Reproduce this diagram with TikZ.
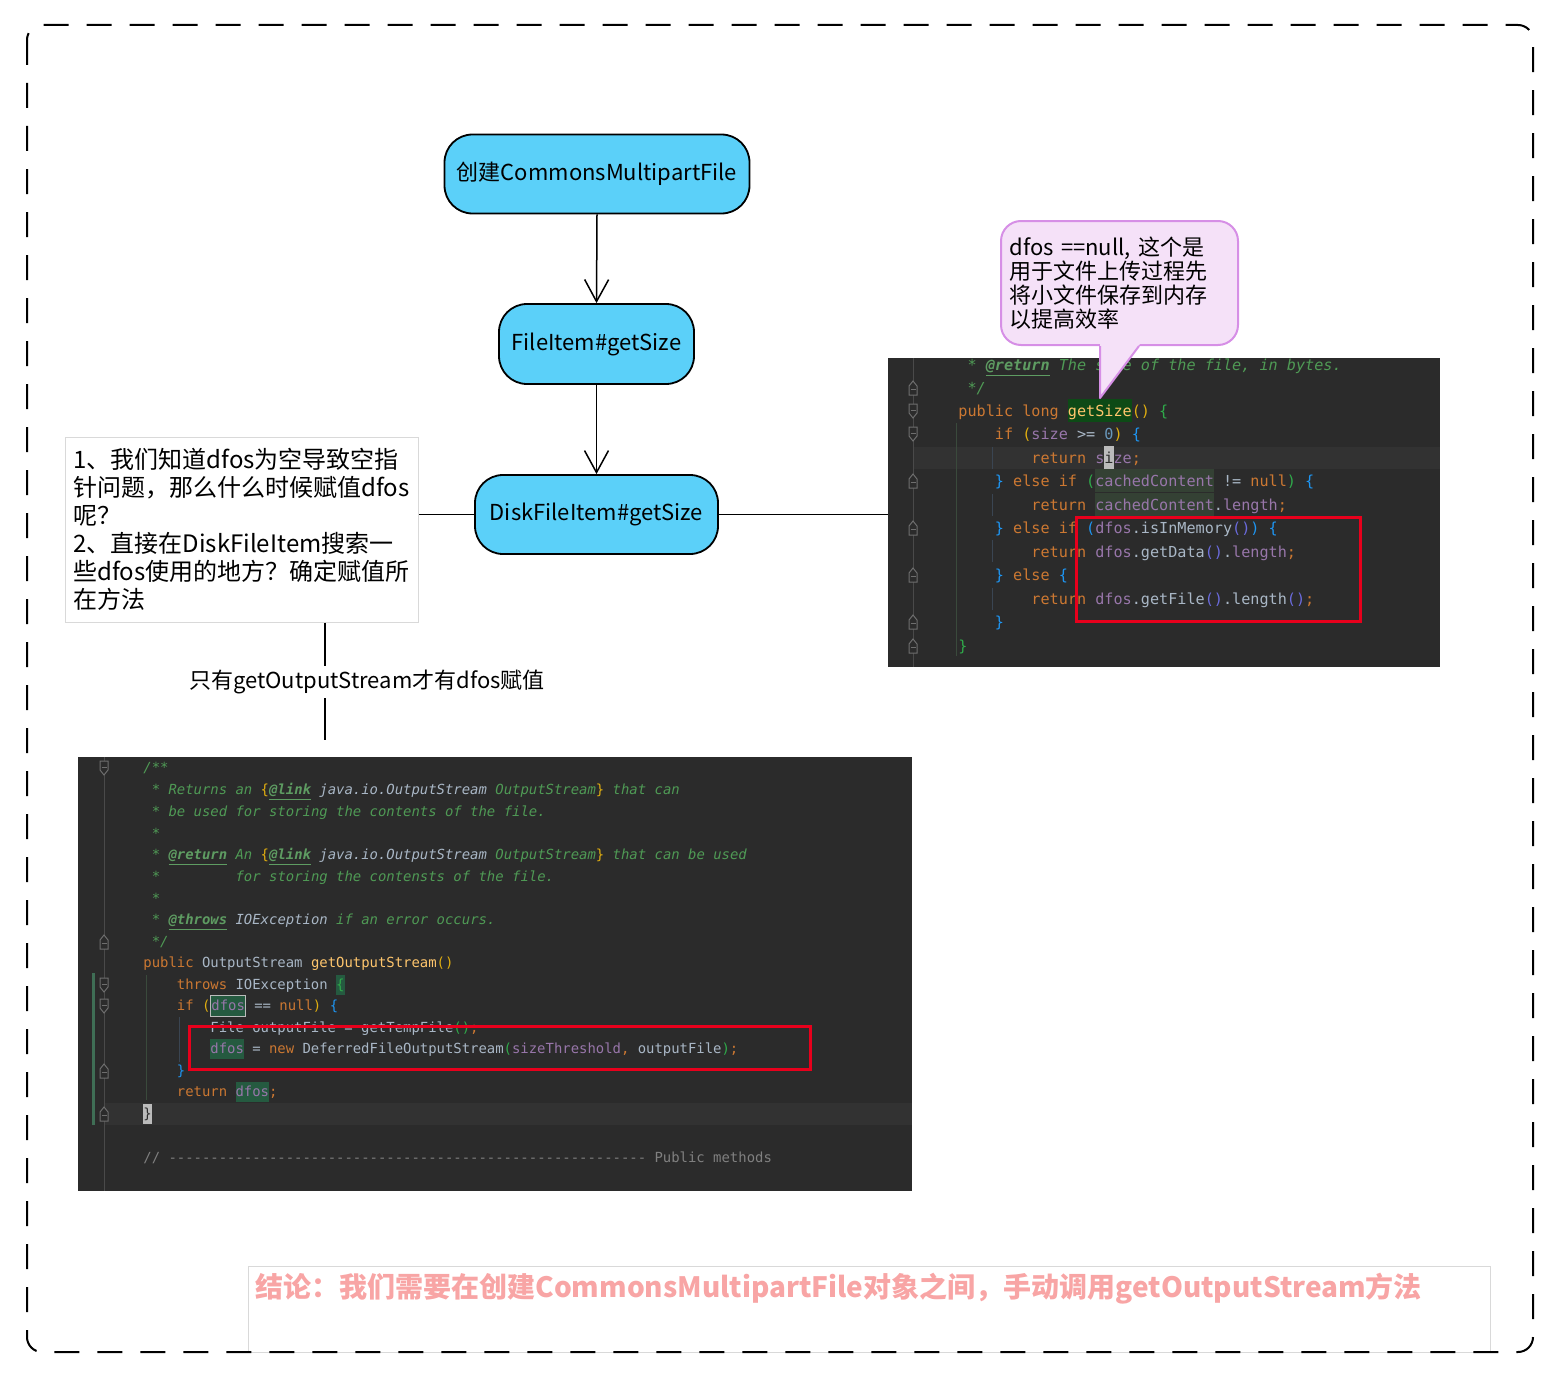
\documentclass[tikz,border=0pt]{standalone}
\usepackage{fontspec}
\setmainfont{Noto Sans CJK SC}
\setmonofont{DejaVu Sans Mono}
\usetikzlibrary{arrows.meta}
\definecolor{flowfill}{HTML}{5BD0F9}
\definecolor{codebg}{HTML}{2B2B2B}
\definecolor{curline}{HTML}{323232}
\definecolor{gutterc}{HTML}{4A4A4A}
\definecolor{foldc}{HTML}{6E6E6E}
\definecolor{kwc}{HTML}{CC7832}
\definecolor{cmc}{HTML}{4F9A55}
\definecolor{tagc}{HTML}{5E9C62}
\definecolor{plainc}{HTML}{A9B7C6}
\definecolor{purc}{HTML}{9876AA}
\definecolor{methc}{HTML}{FFC66D}
\definecolor{numc}{HTML}{6897BB}
\definecolor{bry}{HTML}{E0AE10}
\definecolor{brg}{HTML}{2FAA4A}
\definecolor{brb}{HTML}{1E96F3}
\definecolor{brv}{HTML}{6B6BDD}
\definecolor{hlgetsize}{HTML}{0D4A16}
\definecolor{hlcached}{HTML}{344134}
\definecolor{hldfos}{HTML}{255A40}
\definecolor{cursorbg}{HTML}{BBBBBB}
\definecolor{redbox}{HTML}{E8001C}
\definecolor{calloutfill}{HTML}{F5E1F8}
\definecolor{calloutdraw}{HTML}{D68FE6}
\definecolor{notedraw}{HTML}{D9D9D9}
\definecolor{conclc}{HTML}{F8A5A5}
\definecolor{graycm}{HTML}{808080}
\definecolor{guideg}{HTML}{3A4A3C}
\definecolor{guideb}{HTML}{3A4552}
\definecolor{vcsc}{HTML}{3F6E55}
\newcommand\jk[1]{\textcolor{kwc}{#1}}
\newcommand\jp[1]{\textcolor{purc}{#1}}
\newcommand\jy[1]{\textcolor{methc}{#1}}
\newcommand\jt[1]{\textcolor{plainc}{#1}}
\newcommand\jn[1]{\textcolor{numc}{#1}}
\newcommand\jby[1]{\textcolor{bry}{#1}}
\newcommand\jbg[1]{\textcolor{brg}{#1}}
\newcommand\jbb[1]{\textcolor{brb}{#1}}
\newcommand\jbv[1]{\textcolor{brv}{#1}}
\newcommand\jc[1]{{\itshape\color{cmc}#1}}
\newcommand\jci[1]{{\itshape\color{plainc}#1}}
\newcommand\jtag[1]{{\itshape\bfseries\color{tagc}\underline{#1}}}
\newcommand\jhlA[2]{{\setlength\fboxsep{0pt}\colorbox{#1}{\rule[-3pt]{0pt}{11.5pt}#2}}}
\newcommand\jhlB[2]{{\setlength\fboxsep{0pt}\colorbox{#1}{\rule[-2.6pt]{0pt}{10pt}#2}}}
\newcommand\jcurA[1]{{\setlength\fboxsep{0pt}\colorbox{cursorbg}{\rule[-3pt]{0pt}{11.5pt}\color{codebg}#1}}}
\newcommand\jcurB[1]{{\setlength\fboxsep{0pt}\colorbox{cursorbg}{\rule[-2.6pt]{0pt}{10pt}\color{codebg}#1}}}
\newcommand\jboxB[1]{{\setlength\fboxsep{0pt}\setlength\fboxrule{0.5pt}\fcolorbox{cursorbg}{hldfos}{\rule[-2.6pt]{0pt}{10pt}#1}}}
\tikzset{
  flow/.style={draw=black, line width=0.9pt, fill=flowfill, rounded corners=14pt, inner sep=0pt,
    font=\fontsize{11pt}{13pt}\selectfont},
  flowarrow/.style={line width=0.75pt, -{Straight Barb[length=11pt,width=12pt]}},
  link/.style={line width=0.75pt},
  codebox/.style={fill=codebg, draw=none, inner sep=0pt, anchor=north west},
  codeA/.style={anchor=base west, inner sep=0pt, text=plainc, font=\ttfamily\fontsize{7.58pt}{9pt}\selectfont},
  codeB/.style={anchor=base west, inner sep=0pt, text=plainc, font=\ttfamily\fontsize{6.96pt}{9pt}\selectfont},
  redframe/.style={draw=redbox, line width=1.5pt},
  foldup/.pic={\draw[foldc, line width=0.5pt, fill=codebg] (-4,7) -- (4,7) -- (4,-2) -- (0,-7) -- (-4,-2) -- cycle;
               \draw[foldc, line width=0.5pt] (-2.5,1) -- (2.5,1);},
  folddown/.pic={\draw[foldc, line width=0.5pt, fill=codebg] (-4,-7) -- (4,-7) -- (4,2) -- (0,7) -- (-4,2) -- cycle;
               \draw[foldc, line width=0.5pt] (-2.5,-1) -- (2.5,-1);},
}
\begin{document}
\begin{tikzpicture}[x=0.5pt,y=-0.5pt]
\useasboundingbox (0,0) rectangle (1558,1386);

% flowchart
\node[flow, minimum width=152.5pt, minimum height=39.5pt] (n1) at (597,174) {创建CommonsMultipartFile};
\node[flow, minimum width=97.5pt, minimum height=40pt] (n2) at (596.5,344) {FileItem\#getSize};
\node[flow, minimum width=121.5pt, minimum height=39.5pt] (n3) at (596.5,514.5) {DiskFileItem\#getSize};
\draw[flowarrow] (n1.south) -- (n2.north);
\draw[flowarrow] (n2.south) -- (n3.north);

% note
\node[draw=notedraw, line width=0.5pt, fill=white, minimum width=176.5pt, minimum height=92.5pt,
      align=left, inner sep=3pt, font=\fontsize{12pt}{14pt}\selectfont] (note) at (241.5,529.5)
  {1、我们知道dfos为空导致空指\\针问题，那么什么时候赋值dfos\\呢？\\2、直接在DiskFileItem搜索一\\些dfos使用的地方？确定赋值所\\在方法};

% code screenshot 1
\node[codebox, minimum width=276pt, minimum height=154.5pt] (code1) at (888,358) {};
\draw[link] (n3.west) -- (n3.west -| note.east);
\draw[link] (n3.east) -- (n3.east -| code1.west);
\fill[curline] (913,447) rectangle (1440,469);
\draw[gutterc, line width=0.5pt] (913,358) -- (913,667);
\draw[guideg, line width=0.5pt] (956,423) -- (956,656);
\foreach \ya/\yb in {447/469, 494/516, 540/562, 588/610}
  \draw[guideb, line width=0.5pt] (992,\ya) -- (992,\yb);
\foreach \yy in {388,481,528,575,622,646} \pic at (913,\yy) {foldup};
\foreach \yy in {411,434} \pic at (913,\yy) {folddown};
\node[codeA] (c1l1) at (967.1,370) {\jc{*} \jtag{@return} \jc{The size of the file, in bytes.}};
\node[codeA] (c1l2) at (967.1,393) {\jc{*/}};
\node[codeA] (c1l3) at (958,416) {\jk{public} \jk{long} \jhlA{hlgetsize}{\jy{getSize}}\jby{()} \jbg{\{}};
\node[codeA] (c1l4) at (994.5,439) {\jk{if} \jby{(}\jp{size} \jt{>=} \jn{0}\jby{)} \jbb{\{}};
\node[codeA] (c1l5) at (1031,463) {\jk{return} \jp{s}\jcurA{i}\jp{ze}\jk{;}};
\node[codeA] (c1l6) at (994.5,486) {\jbb{\}} \jk{else} \jk{if} \jbg{(}\jhlA{hlcached}{\jp{cachedContent}} \jt{!=} \jk{null}\jbg{)} \jbb{\{}};
\node[codeA] (c1l7) at (1031,510) {\jk{return} \jhlA{hlcached}{\jp{cachedContent}}\jt{.}\jp{length}\jk{;}};
\node[codeA] (c1l8) at (994.5,533) {\jbb{\}} \jk{else} \jk{if} \jbb{(}\jp{dfos}\jt{.isInMemory}\jbv{()}\jbb{)} \jbb{\{}};
\node[codeA] (c1l9) at (1031,557) {\jk{return} \jp{dfos}\jt{.getData}\jbv{()}\jt{.}\jp{length}\jk{;}};
\node[codeA] (c1l10) at (994.5,580) {\jbb{\}} \jk{else} \jbb{\{}};
\node[codeA] (c1l11) at (1031,604) {\jk{return} \jp{dfos}\jt{.getFile}\jbv{()}\jt{.length}\jbv{()}\jk{;}};
\node[codeA] (c1l12) at (994.5,627) {\jbb{\}}};
\node[codeA] (c1l13) at (958,651) {\jbg{\}}};
\draw[redframe] (1076,517) rectangle (1360,621);

% callout
\node[draw=calloutdraw, fill=calloutfill, line width=1pt, rounded corners=10pt, minimum width=118.5pt,
      minimum height=62pt, text width=110pt, align=left, inner sep=0pt,
      font=\fontsize{11pt}{12pt}\selectfont] (callout) at (1119.5,283)
  {dfos ==null, 这个是\\用于文件上传过程先\\将小文件保存到内存\\以提高效率};
\fill[calloutfill] (1100,342.5) -- (1100,398) -- (1141,342.5) -- cycle;
\draw[calloutdraw, line width=1pt, line join=round] (1100,346) -- (1100,398) -- (1139,346);

% code screenshot 2
\node[codebox, minimum width=417pt, minimum height=217pt] (code2) at (78,757) {};
\fill[curline] (104,1103) rectangle (912,1125);
\draw[gutterc, line width=0.5pt] (104,757) -- (104,1191);
\fill[vcsc] (92,973) rectangle (95,1125);
\draw[guideg, line width=0.5pt] (146,975) -- (146,1100);
\draw[guideb, line width=0.5pt] (179,1017) -- (179,1062);
\foreach \yy in {942,1071,1114} \pic at (104,\yy) {foldup};
\foreach \yy in {768,985,1006} \pic at (104,\yy) {folddown};
\node[codeB] (c2l1) at (143,772.5) {\jc{/**}};
\node[codeB] (c2l2) at (151.4,794.5) {\jc{* Returns an} \jby{\{}\jtag{@link} \jci{java.io.OutputStream} \jc{OutputStream}\jby{\}} \jc{that can}};
\node[codeB] (c2l3) at (151.4,816.5) {\jc{* be used for storing the contents of the file.}};
\node[codeB] (c2l4) at (151.4,838.5) {\jc{*}};
\node[codeB] (c2l5) at (151.4,859.5) {\jc{*} \jtag{@return} \jc{An} \jby{\{}\jtag{@link} \jci{java.io.OutputStream} \jc{OutputStream}\jby{\}} \jc{that can be used}};
\node[codeB] (c2l6a) at (151.4,881.5) {\jc{*}};
\node[codeB] (c2l6b) at (235.2,881.5) {\jc{for storing the contensts of the file.}};
\node[codeB] (c2l7) at (151.4,903.5) {\jc{*}};
\node[codeB] (c2l8) at (151.4,924.5) {\jc{*} \jtag{@throws} \jci{IOException} \jc{if an error occurs.}};
\node[codeB] (c2l9) at (151.4,946.5) {\jc{*/}};
\node[codeB] (c2l10) at (143,967.5) {\jk{public} \jt{OutputStream} \jy{getOutputStream}\jby{()}};
\node[codeB] (c2l11) at (176.5,989.5) {\jk{throws} \jt{IOException} \jhlB{hldfos}{\jbg{\{}}};
\node[codeB] (c2l12) at (176.5,1010.5) {\jk{if} \jby{(}\jboxB{\jp{dfos}} \jt{==} \jk{null}\jby{)} \jbb{\{}};
\node[codeB] (c2l13) at (210,1032.5) {\jt{File outputFile = getTempFile}\jbg{()}\jk{;}};
\node[codeB] (c2l14) at (210,1053.5) {\jhlB{hldfos}{\jp{dfos}} \jt{=} \jk{new} \jt{DeferredFileOutputStream}\jbg{(}\jp{sizeThreshold}\jk{,} \jt{outputFile}\jbg{)}\jk{;}};
\node[codeB] (c2l15) at (176.5,1075.5) {\jbb{\}}};
\node[codeB] (c2l16) at (176.5,1096.5) {\jk{return} \jhlB{hldfos}{\jp{dfos}}\jk{;}};
\node[codeB] (c2l17) at (143,1118.5) {\jcurB{\}}};
\node[codeB] (c2l18) at (143,1162.5) {\textcolor{graycm}{// ---------------------------------------------------------\ Public methods}};
\draw[redframe] (189,1026) rectangle (810,1069);

% connector note -> code2 with label
\coordinate (vend) at (325,740);
\draw[link] (vend |- note.south) -- (vend);
\node[fill=white, inner sep=2pt, font=\fontsize{11pt}{13pt}\selectfont] (lbl) at (367,682) {只有getOutputStream才有dfos赋值};

% conclusion
\node[draw=notedraw, line width=0.5pt, minimum width=621pt, minimum height=43pt, anchor=north west, inner sep=0pt] (concl) at (248,1266) {};
\node[anchor=west, inner sep=0pt, text=conclc, font=\bfseries\fontsize{14pt}{16pt}\selectfont] (conclt) at (255,1289)
  {结论：我们需要在创建CommonsMultipartFile对象之间，手动调用getOutputStream方法};

% dashed frame
\draw[line width=1pt, dash pattern=on 12.5pt off 9pt, rounded corners=7.5pt] (27,25) rectangle (1533,1352);
\end{tikzpicture}
\end{document}
